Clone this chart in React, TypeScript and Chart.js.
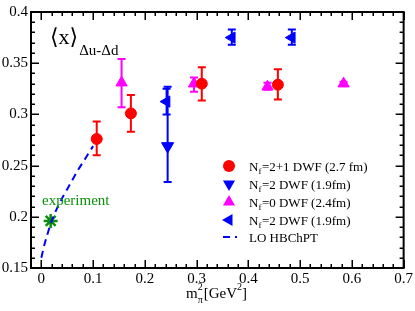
import React, { useEffect, useRef } from 'react';
import { Chart, registerables } from 'chart.js';
Chart.register(...registerables);

const FONT = '"Liberation Serif", "DejaVu Serif", "Times New Roman", serif';

const xTickValues = [0, 0.1, 0.2, 0.3, 0.4, 0.5, 0.6, 0.7];
const xTickLabels = ['0', '0.1', '0.2', '0.3', '0.4', '0.5', '0.6', '0.7'];
const yTickValues = [0.15, 0.2, 0.25, 0.3, 0.35, 0.4];
const yTickLabels = ['0.15', '0.2', '0.25', '0.3', '0.35', '0.4'];

// Nf=2+1 DWF (2.7 fm)
const nf21X = [0.107, 0.173, 0.31, 0.457];
const nf21Y = [0.276, 0.301, 0.33, 0.329];
const nf21Lo = [0.26, 0.283, 0.3135, 0.3145];
const nf21Hi = [0.293, 0.319, 0.346, 0.344];

// Nf=2 DWF (1.9fm) down triangles
const nf2aX = [0.244];
const nf2aY = [0.269];
const nf2aLo = [0.234];
const nf2aHi = [0.327];

// Nf=0 DWF (2.4fm)
const nf0X = [0.155, 0.295, 0.437, 0.584];
const nf0Y = [0.331, 0.33, 0.327, 0.33];
const nf0Lo = [0.307, 0.322, 0.324, 0.328];
const nf0Hi = [0.354, 0.336, 0.331, 0.332];

// Nf=2 DWF (1.9fm) left triangles
const nf2bX = [0.242, 0.368, 0.484];
const nf2bY = [0.3125, 0.375, 0.375];
const nf2bLo = [0.3, 0.368, 0.368];
const nf2bHi = [0.325, 0.383, 0.383];

// experiment
const expX = [0.018];
const expY = [0.196];

// LO HBChPT curve
const chptX = [0, 0.005, 0.01, 0.02, 0.03, 0.04, 0.05, 0.06, 0.07, 0.08, 0.09, 0.1];
const chptY = [0.16, 0.171, 0.18, 0.196, 0.208, 0.218, 0.227, 0.236, 0.245, 0.253, 0.261, 0.269];

const legendLabels = [
  ['=2+1 DWF (2.7 fm)'],
  ['=2 DWF (1.9fm)'],
  ['=0 DWF (2.4fm)'],
  ['=2 DWF (1.9fm)'],
];

const RED = '#ff0000';
const BLUE = '#0000ff';
const MAG = '#ff00ff';
const GREEN = '#0a8f0a';

const zip = (xs: number[], ys: number[]) => xs.map((x, i) => ({ x, y: ys[i] }));

function triPath(ctx: CanvasRenderingContext2D, cx: number, cy: number, r: number, rotDeg: number) {
  ctx.save();
  ctx.translate(cx, cy);
  ctx.rotate((rotDeg * Math.PI) / 180);
  ctx.beginPath();
  const a = -Math.PI / 2;
  for (let k = 0; k < 3; k++) {
    const ang = a + (k * 2 * Math.PI) / 3;
    const px = Math.cos(ang) * r;
    const py = Math.sin(ang) * r;
    if (k === 0) ctx.moveTo(px, py);
    else ctx.lineTo(px, py);
  }
  ctx.closePath();
  ctx.fill();
  ctx.restore();
}

const errorBarPlugin = {
  id: 'errbars',
  beforeDatasetsDraw(chart: any) {
    const ctx = chart.ctx;
    const xs = chart.scales.x;
    const ys = chart.scales.y;
    chart.data.datasets.forEach((ds: any) => {
      if (!ds.errLo) return;
      ctx.save();
      ctx.strokeStyle = ds.borderColor;
      ctx.lineWidth = 2;
      ds.data.forEach((p: any, i: number) => {
        const px = xs.getPixelForValue(p.x);
        const lo = ys.getPixelForValue(ds.errLo[i]);
        const hi = ys.getPixelForValue(ds.errHi[i]);
        ctx.beginPath();
        ctx.moveTo(px, lo);
        ctx.lineTo(px, hi);
        ctx.moveTo(px - 4, lo);
        ctx.lineTo(px + 4, lo);
        ctx.moveTo(px - 4, hi);
        ctx.lineTo(px + 4, hi);
        ctx.stroke();
      });
      ctx.restore();
    });
  },
};

const framePlugin = {
  id: 'frame',
  afterDraw(chart: any) {
    const ctx = chart.ctx;
    const { left, right, top, bottom } = chart.chartArea;
    const xs = chart.scales.x;
    const ys = chart.scales.y;
    ctx.save();
    ctx.strokeStyle = '#000';
    ctx.lineWidth = 1.5;
    ctx.beginPath();
    for (let i = -1; i <= 35; i++) {
      const v = i * 0.02;
      if (v < xs.min - 1e-9 || v > xs.max + 1e-9) continue;
      const px = Math.round(xs.getPixelForValue(v)) + 0.25;
      const major = i % 5 === 0;
      const len = major ? 8 : 4;
      ctx.moveTo(px, bottom);
      ctx.lineTo(px, bottom - len);
      ctx.moveTo(px, top);
      ctx.lineTo(px, top + len);
    }
    for (let i = 15; i <= 40; i++) {
      const v = i * 0.01;
      const py = Math.round(ys.getPixelForValue(v)) + 0.25;
      const major = i % 5 === 0;
      const len = major ? 8 : 4;
      ctx.moveTo(left, py);
      ctx.lineTo(left + len, py);
      ctx.moveTo(right, py);
      ctx.lineTo(right - len, py);
    }
    ctx.stroke();
    ctx.lineWidth = 2;
    ctx.strokeRect(left, top, right - left, bottom - top);
    ctx.restore();
  },
};

const textPlugin = {
  id: 'texts',
  afterDraw(chart: any) {
    const ctx: CanvasRenderingContext2D = chart.ctx;
    const xs = chart.scales.x;
    const ys = chart.scales.y;
    ctx.save();
    ctx.fillStyle = '#000';
    ctx.textBaseline = 'alphabetic';
    ctx.textAlign = 'left';

    // Title <x>_{Δu-Δd}
    ctx.font = `22px ${FONT}`;
    ctx.fillText('\u27E8x\u27E9', 50, 44);
    const tw = ctx.measureText('\u27E8x\u27E9').width;
    ctx.font = `15px ${FONT}`;
    ctx.fillText('\u0394u-\u0394d', 50 + tw + 1, 55);

    // experiment label
    ctx.fillStyle = GREEN;
    ctx.font = `15px ${FONT}`;
    ctx.fillText('experiment', 42, 205);

    // x axis title m_pi^2 [GeV^2]
    ctx.fillStyle = '#000';
    let x = 186;
    const base = 298;
    ctx.font = `15px ${FONT}`;
    ctx.fillText('m', x, base);
    x += ctx.measureText('m').width;
    ctx.font = `10px ${FONT}`;
    ctx.fillText('2', x, base - 8);
    ctx.fillText('\u03C0', x, base + 5);
    x += ctx.measureText('\u03C0').width + 1;
    ctx.font = `15px ${FONT}`;
    ctx.fillText('[GeV', x, base);
    x += ctx.measureText('[GeV').width;
    ctx.font = `10px ${FONT}`;
    ctx.fillText('2', x, base - 8);
    x += ctx.measureText('2').width;
    ctx.font = `15px ${FONT}`;
    ctx.fillText(']', x, base);

    // Legend
    const rows = [166, 184, 202, 220, 237];
    const mx = 229;
    const tx = 249;
    ctx.fillStyle = RED;
    ctx.beginPath();
    ctx.arc(mx, rows[0], 6, 0, Math.PI * 2);
    ctx.fill();
    ctx.fillStyle = BLUE;
    triPath(ctx, mx, rows[1], 7, 180);
    ctx.fillStyle = MAG;
    triPath(ctx, mx, rows[2], 7, 0);
    ctx.fillStyle = BLUE;
    triPath(ctx, mx, rows[3], 7, 270);
    ctx.fillRect(223, rows[4] - 1, 7, 2);
    ctx.fillRect(235, rows[4] - 1, 2, 2);

    ctx.fillStyle = '#000';
    legendLabels.forEach((lab, i) => {
      const by = rows[i] + 5;
      ctx.font = `13px ${FONT}`;
      ctx.fillText('N', tx, by);
      let xx = tx + ctx.measureText('N').width;
      ctx.font = `9px ${FONT}`;
      ctx.fillText('f', xx, by + 3);
      xx += ctx.measureText('f').width + 0.5;
      ctx.font = `13px ${FONT}`;
      ctx.fillText(lab[0], xx, by);
    });
    ctx.font = `13px ${FONT}`;
    ctx.fillText('LO HBChPT', tx, rows[4] + 5);
    ctx.restore();
    void xs;
    void ys;
  },
};

export default function App() {
  const ref = useRef<HTMLCanvasElement>(null);
  useEffect(() => {
    const canvas = ref.current!;
    const tickFont = { family: FONT, size: 15 };
    const chart = new Chart(canvas, {
      type: 'scatter',
      data: {
        datasets: [
          {
            type: 'line',
            label: 'LO HBChPT',
            data: zip(chptX, chptY),
            showLine: true,
            borderColor: BLUE,
            borderWidth: 2,
            borderDash: [7, 5],
            pointRadius: 0,
            fill: false,
            tension: 0.3,
          } as any,
          {
            label: 'Nf=2+1 DWF (2.7 fm)',
            data: zip(nf21X, nf21Y),
            pointStyle: 'circle',
            pointRadius: 5.5,
            backgroundColor: RED,
            borderColor: RED,
            borderWidth: 1,
            errLo: nf21Lo,
            errHi: nf21Hi,
          } as any,
          {
            label: 'Nf=2 DWF (1.9fm)',
            data: zip(nf2aX, nf2aY),
            pointStyle: 'triangle',
            pointRotation: 180,
            pointRadius: 7,
            backgroundColor: BLUE,
            borderColor: BLUE,
            borderWidth: 1,
            errLo: nf2aLo,
            errHi: nf2aHi,
          } as any,
          {
            label: 'Nf=0 DWF (2.4fm)',
            data: zip(nf0X, nf0Y),
            pointStyle: 'triangle',
            pointRadius: 6.5,
            backgroundColor: MAG,
            borderColor: MAG,
            borderWidth: 1,
            errLo: nf0Lo,
            errHi: nf0Hi,
          } as any,
          {
            label: 'Nf=2 DWF (1.9fm)',
            data: zip(nf2bX, nf2bY),
            pointStyle: 'triangle',
            pointRotation: 270,
            pointRadius: 6.5,
            backgroundColor: BLUE,
            borderColor: BLUE,
            borderWidth: 1,
            errLo: nf2bLo,
            errHi: nf2bHi,
          } as any,
          {
            label: 'experiment',
            data: zip(expX, expY),
            pointStyle: 'star',
            pointRadius: 7,
            backgroundColor: GREEN,
            borderColor: GREEN,
            borderWidth: 2.5,
          } as any,
        ],
      },
      options: {
        animation: false,
        responsive: false,
        devicePixelRatio: 1,
        layout: { padding: { top: 5, right: 11, left: 0, bottom: 0 } },
        plugins: { legend: { display: false }, tooltip: { enabled: false } },
        scales: {
          x: {
            type: 'linear',
            min: -0.02,
            max: 0.7,
            afterBuildTicks: (s: any) => {
              s.ticks = xTickValues.map((v) => ({ value: v }));
            },
            afterFit: (s: any) => {
              s.height = 43;
            },
            ticks: {
              callback: (_v: any, i: number) => xTickLabels[i],
              font: tickFont,
              color: '#000',
              padding: 2,
              maxRotation: 0,
              autoSkip: false,
            },
            grid: { display: false, drawTicks: false },
            border: { display: false },
          },
          y: {
            type: 'linear',
            min: 0.15,
            max: 0.4,
            afterBuildTicks: (s: any) => {
              s.ticks = yTickValues.map((v) => ({ value: v }));
            },
            afterFit: (s: any) => {
              s.width = 31;
            },
            ticks: {
              callback: (_v: any, i: number) => yTickLabels[i],
              font: tickFont,
              color: '#000',
              padding: 3,
              autoSkip: false,
            },
            grid: { display: false, drawTicks: false },
            border: { display: false },
          },
        },
      } as any,
      plugins: [errorBarPlugin, framePlugin, textPlugin],
    });
    return () => chart.destroy();
  }, []);
  return (
    <div style={{ position: 'fixed', left: 0, top: 0, width: 415, height: 311, background: '#fff' }}>
      <canvas ref={ref} width={415} height={311} style={{ display: 'block' }} />
    </div>
  );
}
